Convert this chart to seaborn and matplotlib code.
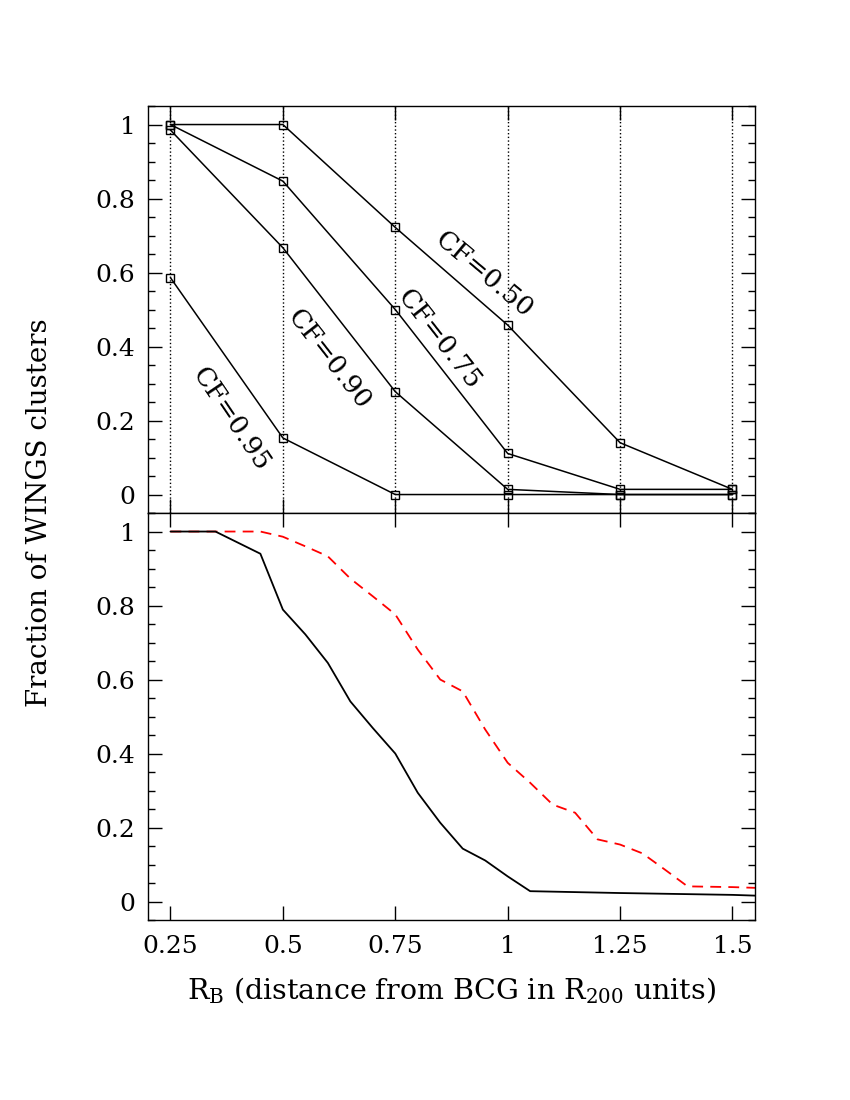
import matplotlib
matplotlib.use("Agg")
import matplotlib.pyplot as plt
from matplotlib.ticker import MultipleLocator
import seaborn as sns
import pandas as pd

# grid of R_B values in the upper panel
r_grid = [0.25, 0.5, 0.75, 1.0, 1.25, 1.5]

cf_050 = [1.0, 1.0, 0.722, 0.458, 0.140, 0.014]
cf_075 = [1.0, 0.847, 0.500, 0.111, 0.014, 0.014]
cf_090 = [0.985, 0.667, 0.278, 0.014, 0.0, 0.0]
cf_095 = [0.586, 0.153, 0.0, 0.0, 0.0, 0.0]

cf_names = ["CF=0.50", "CF=0.75", "CF=0.90", "CF=0.95"]
# label position (x, y) and rotation for each CF curve
label_pos = [(0.947, 0.595, -40), (0.847, 0.419, -52),
             (0.603, 0.365, -52), (0.385, 0.203, -56)]

# lower panel curves
r_fine = [0.25, 0.30, 0.35, 0.40, 0.45, 0.50, 0.55, 0.60, 0.65, 0.70,
          0.75, 0.80, 0.85, 0.90, 0.95, 1.00, 1.05, 1.25, 1.50, 1.55]
frac_solid = [1.0, 1.0, 1.0, 0.97, 0.94, 0.789, 0.722, 0.645, 0.541, 0.469,
              0.400, 0.294, 0.213, 0.143, 0.111, 0.068, 0.028, 0.023, 0.018, 0.016]

r_dash = [0.25, 0.30, 0.35, 0.40, 0.45, 0.50, 0.55, 0.60, 0.65, 0.70,
          0.75, 0.80, 0.85, 0.90, 0.95, 1.00, 1.05, 1.10, 1.15, 1.20,
          1.25, 1.30, 1.35, 1.40, 1.45, 1.50, 1.55]
frac_dash = [1.0, 1.0, 1.0, 1.0, 1.0, 0.986, 0.960, 0.933, 0.873, 0.825,
             0.776, 0.681, 0.600, 0.568, 0.465, 0.375, 0.321, 0.262, 0.240, 0.168,
             0.154, 0.130, 0.086, 0.041, 0.040, 0.039, 0.037]

y_ticks = [0, 0.2, 0.4, 0.6, 0.8, 1.0]
y_ticklabels = ["0", "0.2", "0.4", "0.6", "0.8", "1"]
x_ticks = [0.25, 0.5, 0.75, 1.0, 1.25, 1.5]
x_ticklabels = ["0.25", "0.5", "0.75", "1", "1.25", "1.5"]

sns.set_theme(style="ticks")
plt.rcParams["font.family"] = ["DejaVu Serif"]
plt.rcParams["mathtext.fontset"] = "dejavuserif"
plt.rcParams.update({
    "font.size": 18,
    "xtick.labelsize": 18, "ytick.labelsize": 18,
    "axes.labelsize": 20.5,
    "text.color": "black", "axes.labelcolor": "black",
    "xtick.color": "black", "ytick.color": "black",
    "axes.linewidth": 1.0,
    "xtick.direction": "in", "ytick.direction": "in",
    "xtick.top": True, "ytick.right": True,
    "xtick.major.size": 10, "ytick.major.size": 10,
    "xtick.minor.size": 5, "ytick.minor.size": 5,
    "xtick.major.width": 1.0, "ytick.major.width": 1.0,
    "ytick.minor.width": 1.0,
    "axes.edgecolor": "black",
})

fig = plt.figure(figsize=(8.5, 11), dpi=100)
ax1 = fig.add_axes([0.1741, 0.5336, 0.7141, 0.37])
ax2 = fig.add_axes([0.1741, 0.1636, 0.7141, 0.37])

# upper panel
df_top = pd.DataFrame({
    "R": r_grid * 4,
    "frac": cf_050 + cf_075 + cf_090 + cf_095,
    "CF": sum([[n] * len(r_grid) for n in cf_names], []),
})
for x in r_grid:
    ax1.axvline(x, color="black", linestyle=":", lw=1.0, zorder=0)
sns.lineplot(data=df_top, x="R", y="frac", hue="CF", units="CF", estimator=None,
             palette=["black"] * 4, marker="s", markersize=6, mfc="none",
             mec="black", mew=1.0, lw=1.1, legend=False, ax=ax1)
for name, (tx, ty, rot) in zip(cf_names, label_pos):
    ax1.text(tx, ty, name, rotation=rot, ha="center", va="center",
             rotation_mode="anchor", fontsize=19, color="black")

# lower panel
df_solid = pd.DataFrame({"R": r_fine, "frac": frac_solid})
df_dash = pd.DataFrame({"R": r_dash, "frac": frac_dash})
sns.lineplot(data=df_dash, x="R", y="frac", color="red", lw=1.3,
             linestyle=(0, (6, 4)), ax=ax2)
sns.lineplot(data=df_solid, x="R", y="frac", color="black", lw=1.3, ax=ax2)

for ax in (ax1, ax2):
    ax.set_xlim(0.2, 1.55)
    ax.set_ylim(-0.05, 1.05)
    ax.set_xticks(x_ticks)
    ax.set_yticks(y_ticks)
    ax.set_yticklabels(y_ticklabels)
    ax.yaxis.set_minor_locator(MultipleLocator(0.05))
    ax.tick_params(axis="y", which="both", direction="in", right=True, pad=9)
    ax.tick_params(axis="x", which="both", direction="in", top=True, pad=11)
    ax.set_ylabel("")
    ax.set_xlabel("")

ax1.set_xticklabels([])
ax2.set_xticklabels(x_ticklabels)
ax2.set_xlabel(r"R$_{\rm B}$ (distance from BCG in R$_{200}$ units)", labelpad=12)
fig.text(40 / 850, 1 - 513 / 1100, "Fraction of WINGS clusters",
         rotation=90, ha="center", va="center", fontsize=20)

plt.savefig("out.png", dpi=100)
